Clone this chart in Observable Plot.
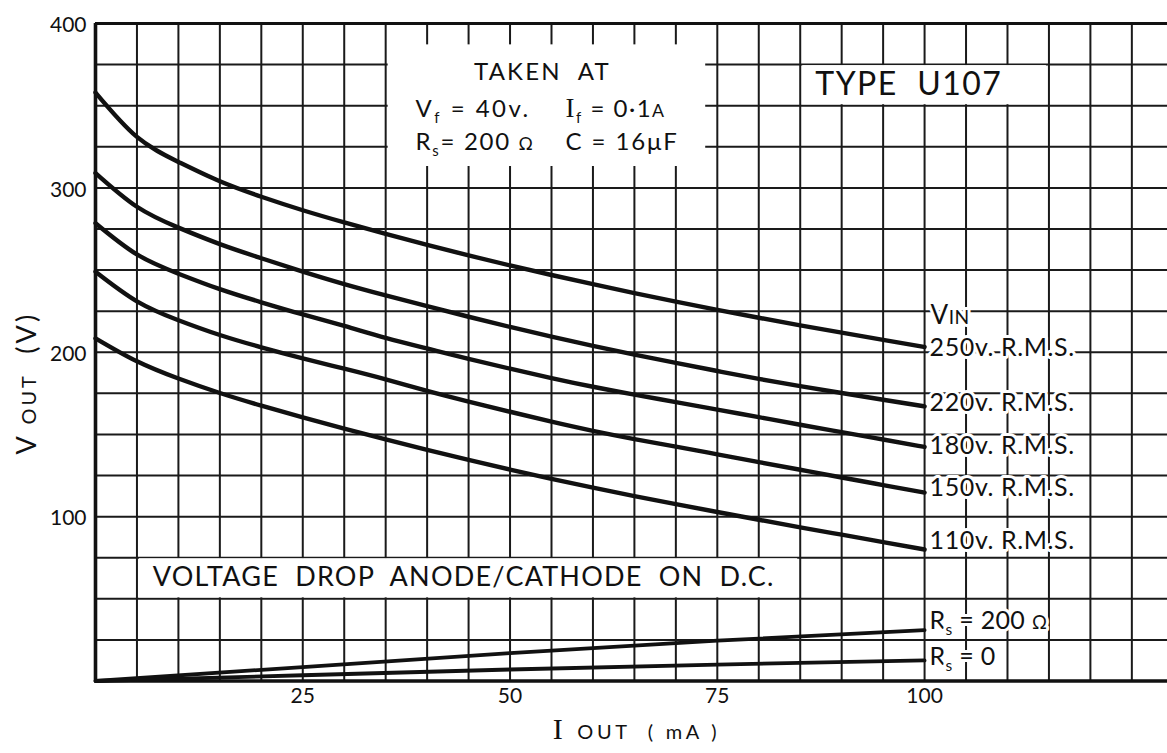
<!DOCTYPE html>
<html><head><meta charset="utf-8">
<script src="https://cdn.jsdelivr.net/npm/d3@7"></script>
<script src="https://cdn.jsdelivr.net/npm/@observablehq/plot@0.6"></script>
<style>
html,body{margin:0;padding:0;background:#fff;}
#chart{width:1167px;height:753px;overflow:hidden;}
</style></head><body><div id="chart"></div>
<script>
// ---- data ----
const current = [0,5,10,15,20,25,30,35,40,45,50,55,60,65,70,75,80,85,90,95,100];
const vout250 = [358,331,315.8,304,294.6,286.4,279,272,265.3,258.9,252.8,247,241.4,236,230.8,225.8,221,216.4,211.9,207.5,203.2];
const vout220 = [309,288.5,275.8,265.8,257.2,249.1,241.5,234.6,228,221.6,215.4,209.5,203.9,198.6,193.5,188.6,183.8,179.4,175.2,171.1,167.1];
const vout180 = [278.5,259.5,247.8,238.4,230.4,223,216,208.8,202.3,196,190,184.3,179,174.2,169.7,165.1,160.5,155.9,151.4,146.9,142.4];
const vout150 = [249,231,219.5,210.5,203,196.3,190,183.5,176.5,170,163.8,157.8,152.2,147.2,142.6,137.9,133.2,128.5,123.8,119.2,114.6];
const vout110 = [208.5,194.5,184,175.2,167.5,160.4,153.6,147,140.6,134.5,128.6,123,117.6,112.5,107.6,102.8,98.1,93.5,89,84.5,80];
const seriesNames = ["250v. R.M.S.","220v. R.M.S.","180v. R.M.S.","150v. R.M.S.","110v. R.M.S."];
const seriesValues = [vout250, vout220, vout180, vout150, vout110];

const dropCurrent = [0,25,50,75,100];
const dropRs200 = [0,8.5,17,24.5,31];
const dropRs0 = [0,3.5,7,10,12.5];
const dropNames = ["R_{s} = 200 ^{Ω}", "R_{s} = 0"];

const xTicks = [25,50,75,100];
const yTicks = [100,200,300,400];
const xGrid = d3.range(5, 130, 5);
const yGrid = d3.range(25, 400, 25);

// ---- annotation layout (data units) ----
const seriesLabelY = [202.7,169.2,142.8,117.5,85];
const dropLabelY = [36.4,14.5];
const boxes = [
  {x1:35.3, x2:73.6, y1:313, y2:387},
  {x1:85.3, x2:114.7, y1:350.6, y2:374.4},
  {x1:5.3, x2:84.7, y1:50.6, y2:74.4}
];
const notesLeft = [
  {x:38.6, y:347.8, text:"V_{f} = 40v."},
  {x:38.6, y:327.5, text:"R_{s}= 200 ^{Ω}"}
];
const notesRight = [
  {x:56.7, y:347.8, text:"!{I}_{f} = 0·1^{A}"},
  {x:56.7, y:327.5, text:"C = 16μF"}
];
const dropTitle = "VOLTAGE  DROP  ANODE/CATHODE  ON  D.C.";
const takenAt = "TAKEN  AT";
const typeLabel = "TYPE  U107";
const vinLabel = "V^{IN}";
const yTitle = "V ^{OUT}  (V)";
const xTitle = "!{I} ^{OUT  ( mA )}";

const rows = seriesNames.flatMap((s, i) => current.map((c, j) => ({series: s, x: c, y: seriesValues[i][j]})));
const dropRows = [
  ...dropCurrent.map((c, j) => ({series: "200", x: c, y: dropRs200[j]})),
  ...dropCurrent.map((c, j) => ({series: "0", x: c, y: dropRs0[j]}))
];
const seriesLabelRows = seriesNames.map((s, i) => ({text: s, y: seriesLabelY[i]}));
const dropLabelRows = dropNames.map((s, i) => ({text: s, y: dropLabelY[i]}));

const ink = "#111";
const font = "Lato, 'Open Sans', sans-serif";
const spacing = new Map([
  ...seriesNames.map(s => [s, 0.6]),
  ...dropNames.map(s => [s, 0.3]),
  [vinLabel, 0.5], [dropTitle, 1.2], [takenAt, 2.2],
  [notesLeft[0].text, 2.5], [notesLeft[1].text, 1.7],
  [notesRight[0].text, 1.5], [notesRight[1].text, 1.9],
  [typeLabel, 1.5], [yTitle, 2.9], [xTitle, 3.7]
]);

const chart = Plot.plot({
  width: 1167, height: 753,
  marginLeft: 95, marginRight: 0, marginTop: 23, marginBottom: 72.5,
  x: {domain: [0, 129.3], axis: null},
  y: {domain: [0, 400], axis: null},
  style: {fontFamily: font, background: "white", color: ink, overflow: "visible"},
  marks: [
    Plot.ruleX(xGrid, {stroke: "#1a1a1a", strokeWidth: 2}),
    Plot.ruleY(yGrid, {stroke: "#1a1a1a", strokeWidth: 2}),
    Plot.rect(boxes, {x1: "x1", x2: "x2", y1: "y1", y2: "y2", fill: "white"}),
    Plot.ruleY([400], {stroke: ink, strokeWidth: 3}),
    Plot.ruleX([0], {stroke: ink, strokeWidth: 3.6}),
    Plot.ruleY([0], {stroke: ink, strokeWidth: 3.6}),
    Plot.line(rows, {x: "x", y: "y", z: "series", stroke: ink, strokeWidth: 4.4, curve: "natural"}),
    Plot.line(dropRows, {x: "x", y: "y", z: "series", stroke: ink, strokeWidth: 3.8}),
    Plot.axisX(xTicks, {anchor: "bottom", tickSize: 0, tickPadding: 7, fontSize: 21, label: null, fill: ink}),
    Plot.axisY(yTicks, {anchor: "left", tickSize: 0, tickPadding: 9, fontSize: 21, label: null, dy: 2, fill: ink}),
    Plot.text(seriesLabelRows, {x: 100, y: "y", text: "text", textAnchor: "start", dx: 5, fontSize: 25, fill: ink, stroke: "white", strokeWidth: 6}),
    Plot.text([vinLabel], {x: 100, y: 222.3, textAnchor: "start", dx: 6, fontSize: 26, fill: ink, stroke: "white", strokeWidth: 6}),
    Plot.text(dropLabelRows, {x: 100, y: "y", text: "text", textAnchor: "start", dx: 5, fontSize: 25, fill: ink, stroke: "white", strokeWidth: 6}),
    Plot.text([dropTitle], {x: 6.9, y: 63, textAnchor: "start", fontSize: 27, fill: ink}),
    Plot.text([takenAt], {x: 53.9, y: 370.5, textAnchor: "middle", fontSize: 24, fill: ink}),
    Plot.text(notesLeft, {x: "x", y: "y", text: "text", textAnchor: "start", fontSize: 24, fill: ink}),
    Plot.text(notesRight, {x: "x", y: "y", text: "text", textAnchor: "start", fontSize: 24, fill: ink}),
    Plot.text([typeLabel], {x: 98.1, y: 362.5, textAnchor: "middle", fontSize: 32, fill: ink}),
    Plot.text([yTitle], {frameAnchor: "left", textAnchor: "middle", dx: -68, dy: 31, rotate: -90, fontSize: 27, fill: ink}),
    Plot.text([xTitle], {frameAnchor: "bottom", textAnchor: "middle", dx: 5, dy: 58, fontSize: 27, fill: ink})
  ]
});

// letter spacing + rich text: _{sub}, ^{small}, !{serif}
d3.select(chart).selectAll("text").each(function() {
  const t = this.textContent;
  const sel = d3.select(this);
  if (spacing.has(t)) sel.attr("letter-spacing", spacing.get(t) + "px");
  if (!/[_^!]\{/.test(t)) return;
  const parts = t.split(/([_^!]\{[^}]*\})/).filter(s => s.length);
  sel.text(null);
  let lift = 0;
  for (const p of parts) {
    if (p.startsWith("_{")) {
      sel.append("tspan").attr("font-size", "62%").attr("dy", "0.4em").text(p.slice(2, -1));
      lift = 0.4 * 0.62;
    } else {
      const ts = sel.append("tspan");
      if (p.startsWith("^{")) ts.attr("font-size", "74%").text(p.slice(2, -1));
      else if (p.startsWith("!{")) ts.attr("font-family", "'Liberation Serif', 'DejaVu Serif', serif").attr("font-size", "112%").text(p.slice(2, -1));
      else ts.text(p);
      if (lift) { ts.attr("dy", `-${lift}em`); lift = 0; }
    }
  }
});

document.getElementById("chart").appendChild(chart);
</script>
</body></html>
